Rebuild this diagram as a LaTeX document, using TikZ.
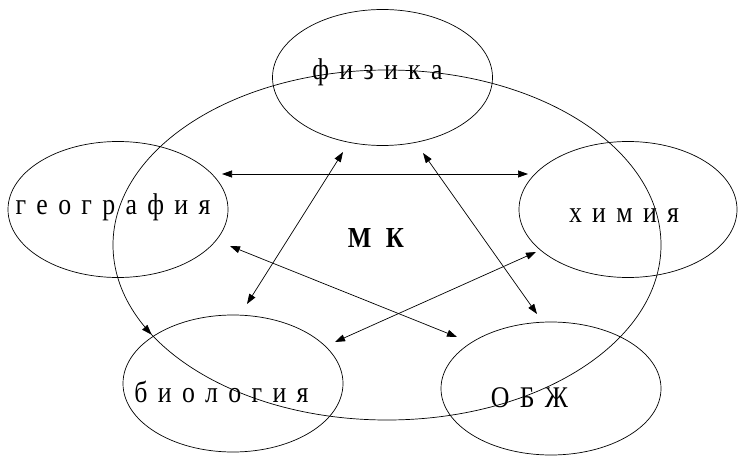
\documentclass[tikz,border=0pt]{standalone}
\usepackage{fontspec}
\setmainfont{Liberation Serif}[WordSpace=1.6, FakeStretch=0.86]
\usetikzlibrary{arrows.meta,shapes.geometric,decorations.markings}

\begin{document}
\begin{tikzpicture}[x=1pt, y=1pt, line width=0.7pt, >={Triangle[length=10pt,width=7pt]},
	every node/.style={font=\fontsize{30}{34}\selectfont, inner sep=0pt},
	subj/.style={draw, ellipse, minimum width=220pt, minimum height=136pt},
	loop mark/.style={postaction={decorate}, decoration={markings,
		mark=at position 0.57 with {\arrow{Triangle[length=10pt,width=7pt]}}}}]
	\useasboundingbox (0,0) rectangle (738,456);
	% the common field
	\coordinate (c) at (387,211);
	\draw[loop mark] (c) ellipse (274 and 175);
	\node[font=\fontsize{29}{34}\selectfont\bfseries, anchor=base] (mk) at (376,209) {М\hspace{0.5em}К};
	% subjects
	\node[subj] (fiz) at (382.5,378.5) {};
	\node[subj] (geo) at (118,246.5) {};
	\node[subj, minimum width=218pt] (him) at (628,246.5) {};
	\node[subj, minimum height=137pt] (bio) at (233,72.5) {};
	\node[subj, minimum height=133pt] (obzh) at (551,67.5) {};
	\node[anchor=base] (fiz-t) at (377.5,376) {ф и з и к а};
	\node[anchor=base] (geo-t) at (113,242) {г е о г р а ф и я};
	\node[anchor=base] (him-t) at (624,234) {х и м и я};
	\node[anchor=base] (bio-t) at (221.5,54) {б и о л о г и я};
	\node[anchor=base] (obzh-t) at (529.5,49) {О Б Ж};
	% ends of the links
	\coordinate (geo-e) at (222,282);
	\coordinate (him-w) at (528,282);
	\coordinate (fiz-sw) at (343,304);
	\coordinate (bio-n) at (247,152);
	\coordinate (fiz-se) at (423,303);
	\coordinate (obzh-n) at (537,142);
	\coordinate (geo-se) at (230,210);
	\coordinate (obzh-nw) at (457,119);
	\coordinate (him-sw) at (536,204);
	\coordinate (bio-ne) at (335,114);
	% links
	\draw[<->] (geo-e) -- (him-w);
	\draw[<->] (fiz-sw) -- (bio-n);
	\draw[<->] (fiz-se) -- (obzh-n);
	\draw[<->] (geo-se) -- (obzh-nw);
	\draw[<->] (him-sw) -- (bio-ne);
\end{tikzpicture}
\end{document}
